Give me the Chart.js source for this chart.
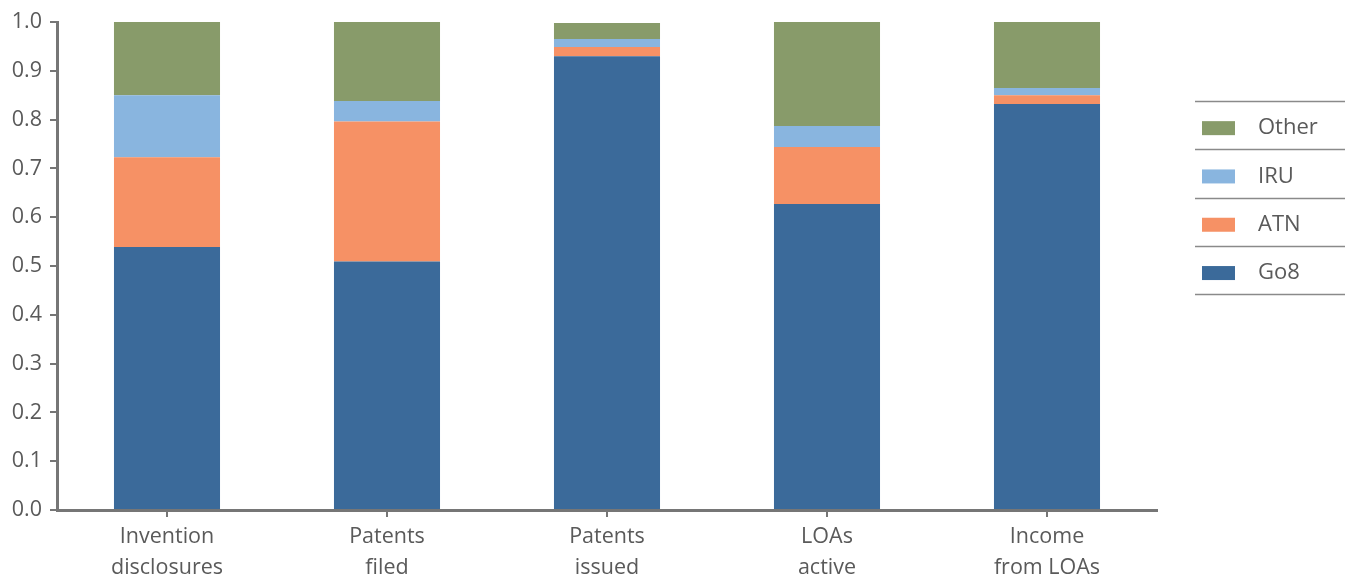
<!DOCTYPE html>
<html>
<head>
<meta charset="utf-8">
<script src="https://cdn.jsdelivr.net/npm/chart.js@4"></script>
<style>
  body { margin: 0; background: #fff; }
  #wrap { width: 1351px; height: 579px; }
</style>
</head>
<body>
<div id="wrap"><canvas id="myChart" width="1351" height="579"></canvas></div>
<script>
var categories = [['Invention', 'disclosures'], ['Patents', 'filed'], ['Patents', 'issued'], ['LOAs', 'active'], ['Income', 'from LOAs']];
var go8 = [0.539, 0.509, 0.930, 0.627, 0.832];
var atn = [0.184, 0.287, 0.019, 0.117, 0.018];
var iru = [0.127, 0.042, 0.016, 0.043, 0.015];
var other = [0.150, 0.162, 0.033, 0.213, 0.135];
var yTicks = [0, 0.1, 0.2, 0.3, 0.4, 0.5, 0.6, 0.7, 0.8, 0.9, 1.0];

var axisColor = '#767676';
var textColor = '#5a5a5a';
var fontFamily = '"Open Sans", "Noto Sans", sans-serif';

// legend with separator lines, drawn on the right side
var sideLegend = {
  id: 'sideLegend',
  afterDraw: function(chart) {
    var ctx = chart.ctx;
    var sets = chart.data.datasets.slice().reverse();
    var x0 = 1195, x1 = 1345, top = 101, rowH = 48.3;
    ctx.save();
    ctx.strokeStyle = '#8a8a8a';
    ctx.lineWidth = 1.5;
    for (var i = 0; i <= sets.length; i++) {
      var y = Math.round(top + i * rowH) + 0.5;
      ctx.beginPath();
      ctx.moveTo(x0, y);
      ctx.lineTo(x1, y);
      ctx.stroke();
    }
    ctx.font = '22px ' + fontFamily;
    ctx.textBaseline = 'middle';
    sets.forEach(function(ds, i) {
      var cy = top + i * rowH + rowH / 2 + 3;
      ctx.fillStyle = ds.backgroundColor;
      ctx.fillRect(1202, cy - 7, 33, 14);
      ctx.fillStyle = textColor;
      ctx.fillText(ds.label, 1258, cy);
    });
    ctx.restore();
  }
};

new Chart(document.getElementById('myChart').getContext('2d'), {
  type: 'bar',
  data: {
    labels: categories,
    datasets: [
      { label: 'Go8', data: go8, backgroundColor: '#3b6a9a' },
      { label: 'ATN', data: atn, backgroundColor: '#f69165' },
      { label: 'IRU', data: iru, backgroundColor: '#89b5df' },
      { label: 'Other', data: other, backgroundColor: '#889b6a' }
    ]
  },
  options: {
    responsive: false,
    animation: false,
    layout: { padding: { top: 22, right: 194, left: 0, bottom: 0 } },
    datasets: { bar: { categoryPercentage: 1, barPercentage: 0.482 } },
    plugins: {
      legend: { display: false },
      tooltip: { enabled: false }
    },
    scales: {
      x: {
        stacked: true,
        afterFit: function(s) { s.height = 69; },
        border: { color: axisColor, width: 3 },
        grid: { offset: false, drawOnChartArea: false, color: axisColor, lineWidth: 2, tickLength: 7 },
        ticks: { color: textColor, padding: 5, maxRotation: 0, font: { family: fontFamily, size: 21.5, lineHeight: 1.43 } }
      },
      y: {
        stacked: true,
        min: 0,
        max: 1,
        afterFit: function(s) { s.width = 57; },
        afterBuildTicks: function(s) { s.ticks = yTicks.map(function(v) { return { value: v }; }); },
        border: { color: axisColor, width: 3 },
        grid: { drawOnChartArea: false, color: axisColor, lineWidth: 2, tickLength: 7 },
        ticks: {
          color: textColor, padding: 8,
          font: { family: fontFamily, size: 21.5 },
          callback: function(v) { return v.toFixed(1); }
        }
      }
    }
  },
  plugins: [sideLegend]
});
</script>
</body>
</html>
